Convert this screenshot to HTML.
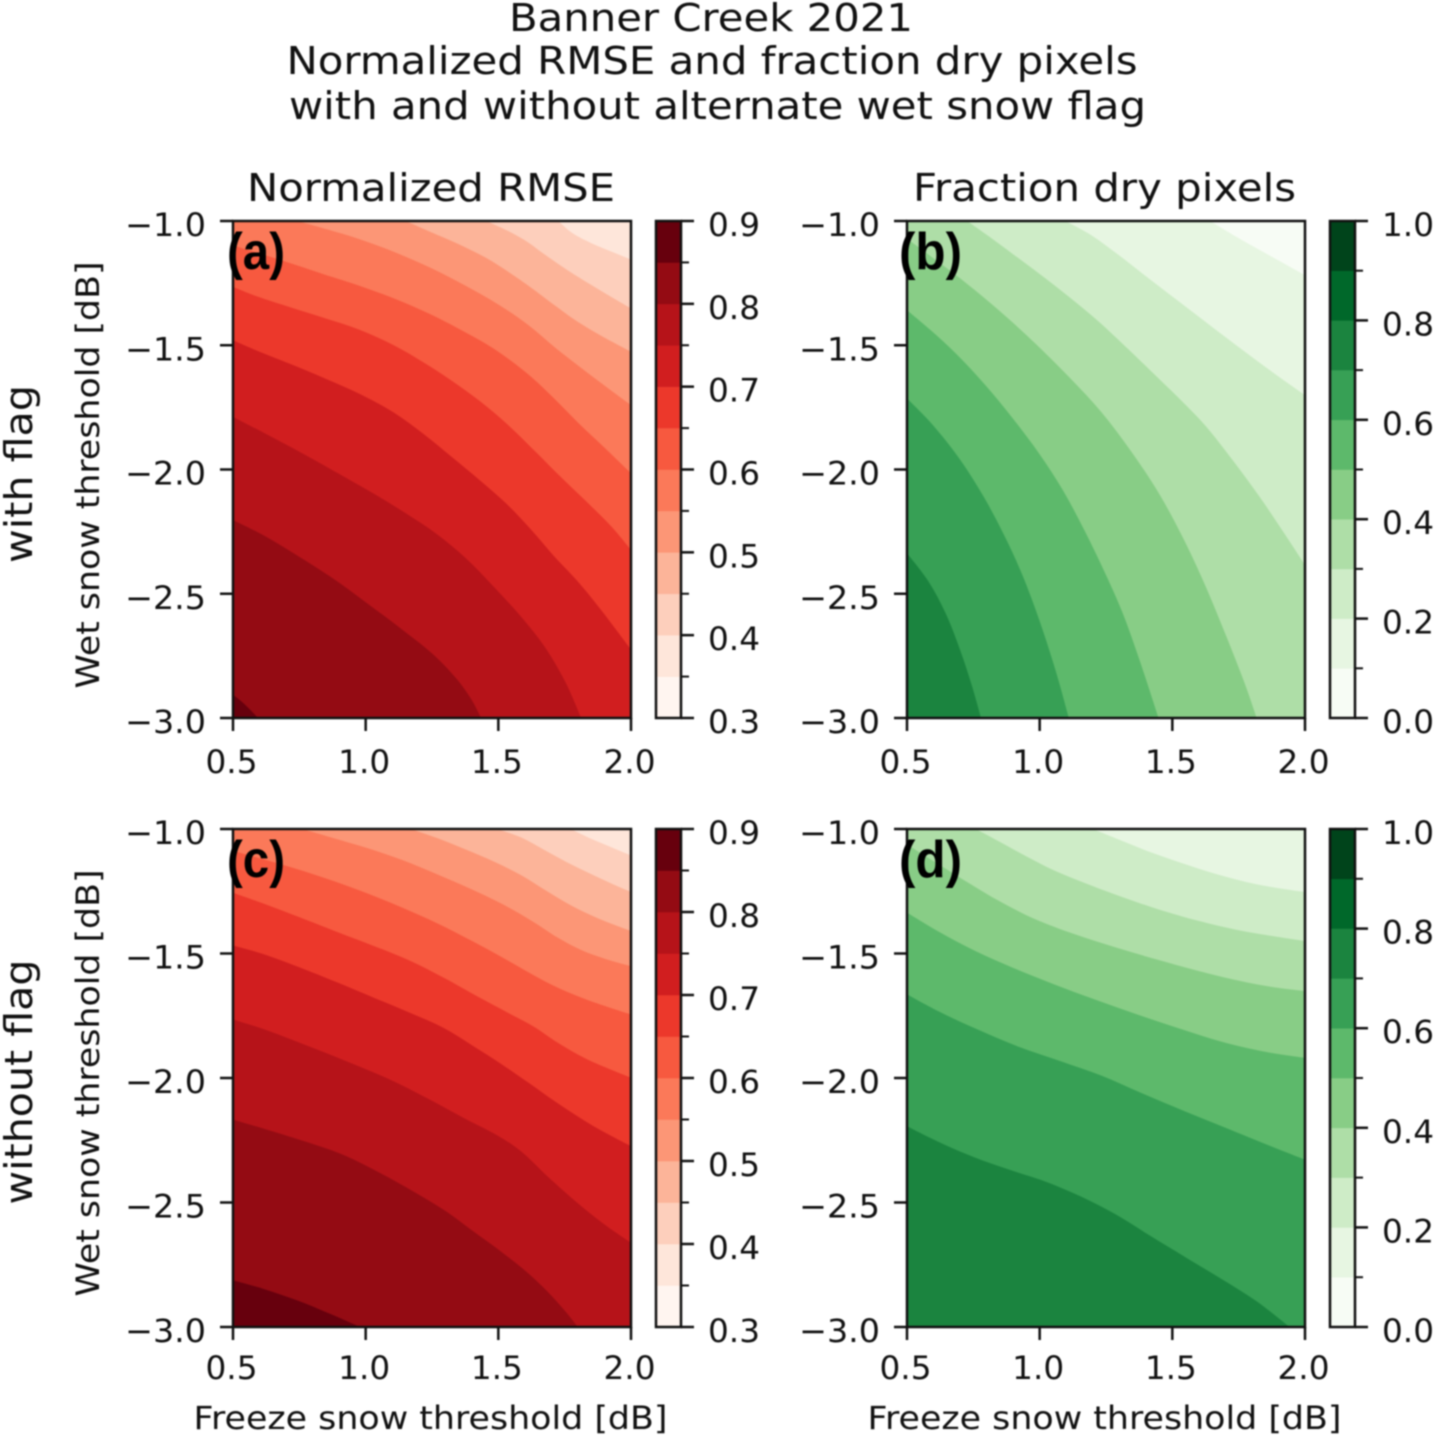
<!DOCTYPE html>
<html lang="en">
<head>
<meta charset="utf-8">
<title>Banner Creek 2021</title>
<style>
html,body{margin:0;padding:0;background:#fff;width:1435px;height:1438px;overflow:hidden}
svg{display:block;filter:blur(0.7px)}
text{font-family:"DejaVu Sans","Liberation Sans",sans-serif;fill:#111}
.panel-tag{font-family:"Liberation Sans",sans-serif;font-weight:700;font-size:52px;fill:#000}
</style>
</head>
<body>
<svg id="fig" xmlns="http://www.w3.org/2000/svg" width="1435" height="1438" viewBox="0 0 1435 1438">
<rect width="1435" height="1438" fill="#fff"/>
<g id="plots"></g>
<text x="711" y="31" text-anchor="middle" font-size="38.4" textLength="404" lengthAdjust="spacingAndGlyphs">Banner Creek 2021</text>
<text x="712" y="74" text-anchor="middle" font-size="38.4" textLength="851" lengthAdjust="spacingAndGlyphs">Normalized RMSE and fraction dry pixels</text>
<text x="717.5" y="119" text-anchor="middle" font-size="38.4" textLength="857" lengthAdjust="spacingAndGlyphs">with and without alternate wet snow flag</text>
<text x="431" y="201" text-anchor="middle" font-size="38.4" textLength="368" lengthAdjust="spacingAndGlyphs">Normalized RMSE</text>
<text x="1104.5" y="201" text-anchor="middle" font-size="38.4" textLength="383" lengthAdjust="spacingAndGlyphs">Fraction dry pixels</text>
<text transform="translate(32,474) rotate(-90)" text-anchor="middle" font-size="38.4" textLength="178" lengthAdjust="spacingAndGlyphs">with flag</text>
<text transform="translate(32,1082) rotate(-90)" text-anchor="middle" font-size="38.4" textLength="245" lengthAdjust="spacingAndGlyphs">without flag</text>
<text transform="translate(99,475) rotate(-90)" text-anchor="middle" font-size="32" textLength="427" lengthAdjust="spacingAndGlyphs">Wet snow threshold [dB]</text>
<text transform="translate(99,1083) rotate(-90)" text-anchor="middle" font-size="32" textLength="427" lengthAdjust="spacingAndGlyphs">Wet snow threshold [dB]</text>
<text x="430.5" y="1429" text-anchor="middle" font-size="32" textLength="474" lengthAdjust="spacingAndGlyphs">Freeze snow threshold [dB]</text>
<text x="1104.5" y="1429" text-anchor="middle" font-size="32" textLength="474" lengthAdjust="spacingAndGlyphs">Freeze snow threshold [dB]</text>
<text class="panel-tag" x="227" y="269" textLength="58" lengthAdjust="spacingAndGlyphs">(a)</text>
<text class="panel-tag" x="899" y="269" textLength="63" lengthAdjust="spacingAndGlyphs">(b)</text>
<text class="panel-tag" x="227" y="877" textLength="58" lengthAdjust="spacingAndGlyphs">(c)</text>
<text class="panel-tag" x="899" y="877" textLength="63" lengthAdjust="spacingAndGlyphs">(d)</text>
</svg>
<script>
// ---- axis data ----
const freezeTicks = [0.5, 1.0, 1.5, 2.0];
const wetTicks = [-1.0, -1.5, -2.0, -2.5, -3.0];
const rmseBarTicks = [0.3, 0.4, 0.5, 0.6, 0.7, 0.8, 0.9];
const rmseBarMinor = [0.35, 0.45, 0.55, 0.65, 0.75, 0.85];
const dryBarTicks = [0.0, 0.2, 0.4, 0.6, 0.8, 1.0];
const dryBarMinor = [0.1, 0.3, 0.5, 0.7, 0.9];
const rmseBandEdges = [0.3, 0.35, 0.4, 0.45, 0.5, 0.55, 0.6, 0.65, 0.7, 0.75, 0.8, 0.85, 0.9];
const dryBandEdges = [0.0, 0.1, 0.2, 0.3, 0.4, 0.5, 0.6, 0.7, 0.8, 0.9, 1.0];

// ---- contour data: value levels and their iso-lines, in threshold units (dB) ----
const rmseLevels = [0.40, 0.45, 0.50, 0.55, 0.60, 0.65, 0.70, 0.75, 0.80, 0.85];
const aFreeze = [
 [1.726,1.773,1.852,1.931,2],
 [1.455,1.548,1.614,1.667,1.733,1.799,1.892,2],
 [1.151,1.243,1.349,1.455,1.548,1.614,1.72,1.786,1.892,2],
 [0.741,0.847,0.979,1.111,1.243,1.376,1.508,1.614,1.72,1.825,1.905,2],
 [0.5,0.688,0.847,0.979,1.111,1.243,1.349,1.482,1.614,1.706,1.799,1.905,2],
 [0.5,0.582,0.714,0.847,0.979,1.111,1.217,1.323,1.429,1.534,1.64,1.733,1.839,1.931,2],
 [0.5,0.582,0.714,0.847,0.979,1.111,1.217,1.323,1.429,1.534,1.627,1.706,1.799,1.878,2],
 [0.5,0.608,0.741,0.873,1.032,1.151,1.27,1.376,1.482,1.587,1.68,1.759,1.812],
 [0.5,0.608,0.728,0.873,1.005,1.138,1.257,1.349,1.402,1.435],
 [0.5,0.542,0.595]
];
const aWet = [
 [-1,-1.051,-1.091,-1.125,-1.155],
 [-1,-1.044,-1.084,-1.131,-1.178,-1.225,-1.285,-1.352],
 [-1,-1.044,-1.091,-1.145,-1.212,-1.259,-1.346,-1.399,-1.466,-1.526],
 [-1,-1.031,-1.071,-1.125,-1.185,-1.259,-1.339,-1.413,-1.52,-1.6,-1.667,-1.741],
 [-1.098,-1.158,-1.218,-1.259,-1.312,-1.372,-1.433,-1.506,-1.614,-1.707,-1.814,-1.915,-2.015],
 [-1.265,-1.303,-1.346,-1.393,-1.433,-1.5,-1.567,-1.64,-1.721,-1.814,-1.928,-2.029,-2.136,-2.23,-2.324],
 [-1.48,-1.52,-1.573,-1.634,-1.694,-1.768,-1.855,-1.948,-2.042,-2.136,-2.243,-2.35,-2.444,-2.551,-2.725],
 [-1.788,-1.848,-1.922,-2.002,-2.096,-2.176,-2.257,-2.35,-2.471,-2.591,-2.712,-2.859,-3],
 [-2.203,-2.257,-2.337,-2.431,-2.538,-2.645,-2.739,-2.846,-2.926,-3],
 [-2.906,-2.94,-3]
];
const cFreeze = [
 [1.773,1.852,1.931,2],
 [1.495,1.587,1.667,1.759,1.852,1.931,2],
 [1.171,1.27,1.376,1.482,1.587,1.68,1.773,1.878,2],
 [0.761,0.873,1.005,1.138,1.27,1.402,1.534,1.64,1.72,1.812,1.905,2],
 [0.5,0.688,0.847,1.005,1.138,1.27,1.402,1.508,1.614,1.72,1.825,2],
 [0.5,0.608,0.741,0.899,1.032,1.164,1.296,1.429,1.534,1.64,1.72,1.825,2],
 [0.5,0.608,0.741,0.899,1.032,1.164,1.296,1.402,1.508,1.614,1.72,1.852,2],
 [0.5,0.608,0.767,0.926,1.085,1.243,1.376,1.508,1.587,1.68,1.812,1.905,2],
 [0.5,0.608,0.767,0.913,1.032,1.191,1.31,1.402,1.521,1.614,1.693,1.759,1.799],
 [0.5,0.608,0.741,0.873,0.979]
];
const cWet = [
 [-1,-1.042,-1.075,-1.106],
 [-1,-1.028,-1.082,-1.135,-1.182,-1.222,-1.253],
 [-1,-1.035,-1.082,-1.129,-1.182,-1.249,-1.309,-1.363,-1.41],
 [-1,-1.035,-1.075,-1.122,-1.182,-1.242,-1.309,-1.376,-1.437,-1.49,-1.524,-1.551],
 [-1.088,-1.142,-1.196,-1.256,-1.316,-1.376,-1.45,-1.51,-1.577,-1.638,-1.685,-1.745],
 [-1.256,-1.296,-1.35,-1.417,-1.47,-1.524,-1.597,-1.678,-1.738,-1.792,-1.859,-1.926,-1.999],
 [-1.468,-1.497,-1.551,-1.618,-1.678,-1.738,-1.792,-1.872,-1.939,-2.019,-2.1,-2.194,-2.274],
 [-1.765,-1.798,-1.865,-1.932,-1.999,-2.086,-2.167,-2.234,-2.287,-2.395,-2.515,-2.595,-2.662],
 [-2.167,-2.2,-2.254,-2.301,-2.368,-2.462,-2.535,-2.616,-2.703,-2.783,-2.863,-2.944,-3],
 [-2.812,-2.843,-2.89,-2.95,-3]
];
const bLevels = [0.1, 0.2, 0.3, 0.4, 0.5, 0.6, 0.7];
const bFreeze = [
 [1.643,1.74,1.831,1.922,2],
 [1.097,1.195,1.299,1.403,1.519,1.649,1.766,1.883,2],
 [0.727,0.805,0.896,1,1.104,1.221,1.338,1.442,1.532,1.623,1.727,1.831,1.922,2],
 [0.5,0.584,0.688,0.818,0.948,1.104,1.234,1.351,1.455,1.545,1.623,1.714,1.779,1.818],
 [0.5,0.584,0.688,0.792,0.896,1,1.091,1.169,1.247,1.312,1.377,1.448],
 [0.5,0.597,0.701,0.792,0.87,0.935,1,1.065,1.11],
 [0.5,0.584,0.649,0.701,0.747,0.779]
];
const bWet = [
 [-1,-1.064,-1.118,-1.171,-1.218],
 [-1,-1.051,-1.138,-1.225,-1.319,-1.426,-1.52,-1.614,-1.701],
 [-1,-1.058,-1.131,-1.212,-1.299,-1.399,-1.52,-1.627,-1.721,-1.814,-1.962,-2.109,-2.257,-2.384],
 [-1.071,-1.138,-1.218,-1.332,-1.453,-1.62,-1.761,-1.935,-2.096,-2.283,-2.457,-2.699,-2.873,-3],
 [-1.359,-1.433,-1.533,-1.654,-1.788,-1.935,-2.082,-2.243,-2.417,-2.565,-2.766,-3],
 [-1.714,-1.814,-1.955,-2.109,-2.27,-2.417,-2.605,-2.819,-3],
 [-2.337,-2.444,-2.578,-2.725,-2.873,-3]
];
const dLevels = [0.2, 0.3, 0.4, 0.5, 0.6, 0.7];
const dFreeze = [
 [1.201,1.299,1.416,1.532,1.662,1.805,1.922,2],
 [0.76,0.844,0.948,1.052,1.182,1.299,1.442,1.597,1.753,1.896,2],
 [0.5,0.649,0.74,0.844,0.974,1.13,1.286,1.442,1.597,1.753,1.883,2],
 [0.5,0.623,0.753,0.896,1.052,1.208,1.364,1.519,1.688,1.857,2],
 [0.5,0.623,0.766,0.922,1.078,1.234,1.39,1.545,1.701,1.87,2],
 [0.5,0.61,0.753,0.896,1.013,1.156,1.286,1.416,1.545,1.688,1.818,1.942]
];
const dWet = [
 [-1,-1.042,-1.095,-1.135,-1.182,-1.222,-1.242,-1.253],
 [-1,-1.048,-1.109,-1.169,-1.222,-1.269,-1.323,-1.37,-1.41,-1.433,-1.45],
 [-1.062,-1.162,-1.222,-1.289,-1.363,-1.423,-1.477,-1.524,-1.571,-1.611,-1.638,-1.651],
 [-1.336,-1.417,-1.49,-1.557,-1.624,-1.685,-1.745,-1.798,-1.859,-1.899,-1.919],
 [-1.664,-1.738,-1.805,-1.879,-1.932,-1.986,-2.066,-2.133,-2.2,-2.274,-2.328],
 [-2.194,-2.254,-2.321,-2.374,-2.408,-2.475,-2.542,-2.636,-2.716,-2.81,-2.89,-3]
];

// ---- palettes (one colour per band, low to high) ----
const redsPalette = ['#fff5f0','#fee6da','#fdcfbc','#fcb499','#fc9676','#fb7959','#f7593f','#ec382b','#d11e1f','#b61319','#940b13','#67000d'];
const greensPalette = ['#f7fcf5','#e7f6e2','#ceecc7','#aedea7','#88cd86','#5db96b','#37a055','#1b843f','#00682a','#00441b'];

// ---- layout ----
const columns = { left: {x0: 233, x1: 631, bar0: 656, bar1: 681}, right: {x0: 907, x1: 1305, bar0: 1330, bar1: 1355} };
const rows = { top: {y0: 221, y1: 718, xLabelDy: 55}, bottom: {y0: 829, y1: 1327, xLabelDy: 52} };
const NS = 'http://www.w3.org/2000/svg';
const root = document.getElementById('plots');
const INK = '#111';
const LW = 2.5;

function make(tag, parent, attrs) {
  const el = document.createElementNS(NS, tag);
  for (const k in attrs) el.setAttribute(k, attrs[k]);
  parent.appendChild(el);
  return el;
}
function linear(d0, d1, r0, r1) {
  return v => r0 + (v - d0) / (d1 - d0) * (r1 - r0);
}
function fmt(v) {
  return (v < 0 ? '\u2212' : '') + Math.abs(v).toFixed(1);
}
function fitWidth(v) {
  return v < 0 ? 81 : 52;
}
function bandIndex(value, edges) {
  let best = 0, bestDist = Infinity;
  edges.forEach((e, i) => { const d = Math.abs(e - value); if (d < bestDist) { bestDist = d; best = i; } });
  return best;
}
// Light de-jitter of the hand-read iso-line, keeping its two end points on the frame.
function relax(p) {
  return p.map((q, i) => {
    if (i === 0 || i === p.length - 1) return q;
    return [0.2 * p[i - 1][0] + 0.6 * q[0] + 0.2 * p[i + 1][0], 0.2 * p[i - 1][1] + 0.6 * q[1] + 0.2 * p[i + 1][1]];
  });
}
function smoothThrough(p) {
  let d = 'M' + p[0][0].toFixed(2) + ' ' + p[0][1].toFixed(2);
  for (let i = 0; i < p.length - 1; i++) {
    const a = p[Math.max(i - 1, 0)], b = p[i], c = p[i + 1], e = p[Math.min(i + 2, p.length - 1)];
    const c1x = b[0] + (c[0] - a[0]) / 6, c1y = b[1] + (c[1] - a[1]) / 6;
    const c2x = c[0] - (e[0] - b[0]) / 6, c2y = c[1] - (e[1] - b[1]) / 6;
    d += 'C' + [c1x, c1y, c2x, c2y, c[0], c[1]].map(n => n.toFixed(2)).join(' ');
  }
  return d;
}

function drawPanel(id, col, row, levels, freezeSets, wetSets, palette, edges, barTicks, barMinor) {
  const xMin = freezeTicks[0], xMax = freezeTicks[freezeTicks.length - 1];
  const yTop = wetTicks[0], yBottom = wetTicks[wetTicks.length - 1];
  const xs = linear(xMin, xMax, col.x0, col.x1);
  const ys = linear(yTop, yBottom, row.y0, row.y1);
  const g = make('g', root, {});
  
  

  const clip = make('clipPath', g, {id: 'clip-' + id});
  make('rect', clip, {x: xs(xMin), y: ys(yTop), width: xs(xMax) - xs(xMin), height: ys(yBottom) - ys(yTop)});
  const field = make('g', g, {'clip-path': 'url(#clip-' + id + ')'});
  
  

  const base = make('rect', field, {x: xs(xMin), y: ys(yTop), width: xs(xMax) - xs(xMin), height: ys(yBottom) - ys(yTop), fill: palette[bandIndex(levels[0], edges) - 1]});
  
  

  levels.forEach((level, i) => {
    const fx = freezeSets[i], wy = wetSets[i];
    const line = relax(fx.map((f, j) => [xs(f), ys(wy[j])]));
    const tail = [];
    if (fx[fx.length - 1] === xMax) tail.push([xMax, yBottom]);
    tail.push([xMin, yBottom]);
    if (wy[0] === yTop) tail.push([xMin, yTop]);
    const d = smoothThrough(line) + tail.map(p => 'L' + xs(p[0]).toFixed(2) + ' ' + ys(p[1]).toFixed(2)).join('') + 'Z';
    const band = make('path', field, {d: d, fill: palette[bandIndex(level, edges)]});
    
    
  });

  const frame = make('rect', g, {x: xs(xMin), y: ys(yTop), width: xs(xMax) - xs(xMin), height: ys(yBottom) - ys(yTop), fill: 'none', stroke: INK, 'stroke-width': LW});
  
  

  freezeTicks.forEach(t => {
    const tick = make('line', g, {x1: xs(t), x2: xs(t), y1: ys(yBottom), y2: ys(yBottom) + 13, stroke: INK, 'stroke-width': LW});
    
    
    const label = make('text', g, {x: xs(t) - 1.5, y: ys(yBottom) + row.xLabelDy, 'text-anchor': 'middle', 'font-size': 32, textLength: fitWidth(t), lengthAdjust: 'spacingAndGlyphs'});
    label.textContent = fmt(t);
    
    
  });
  wetTicks.forEach(t => {
    const tick = make('line', g, {x1: xs(xMin) - 13, x2: xs(xMin), y1: ys(t), y2: ys(t), stroke: INK, 'stroke-width': LW});
    
    
    const label = make('text', g, {x: xs(xMin) - 27, y: ys(t) + 15, 'text-anchor': 'end', 'font-size': 32, textLength: fitWidth(t), lengthAdjust: 'spacingAndGlyphs'});
    label.textContent = fmt(t);
    
    
  });

  // colorbar
  const cb = make('g', g, {});
  
  
  const vs = linear(edges[0], edges[edges.length - 1], row.y1, row.y0);
  palette.forEach((color, i) => {
    const seg = make('rect', cb, {x: col.bar0, y: vs(edges[i + 1]), width: col.bar1 - col.bar0, height: vs(edges[i]) - vs(edges[i + 1]) + 0.3, fill: color});
    
    
  });
  const outline = make('rect', cb, {x: col.bar0, y: row.y0, width: col.bar1 - col.bar0, height: row.y1 - row.y0, fill: 'none', stroke: INK, 'stroke-width': LW});
  
  
  barMinor.forEach(t => {
    const tick = make('line', cb, {x1: col.bar1, x2: col.bar1 + 8, y1: vs(t), y2: vs(t), stroke: INK, 'stroke-width': 2});
    
    
  });
  barTicks.forEach(t => {
    const tick = make('line', cb, {x1: col.bar1, x2: col.bar1 + 13, y1: vs(t), y2: vs(t), stroke: INK, 'stroke-width': LW});
    
    
    const label = make('text', cb, {x: col.bar1 + 27, y: vs(t) + 15, 'font-size': 32, textLength: fitWidth(t), lengthAdjust: 'spacingAndGlyphs'});
    label.textContent = fmt(t);
    
    
  });
}

drawPanel('a', columns.left, rows.top, rmseLevels, aFreeze, aWet, redsPalette, rmseBandEdges, rmseBarTicks, rmseBarMinor);
drawPanel('b', columns.right, rows.top, bLevels, bFreeze, bWet, greensPalette, dryBandEdges, dryBarTicks, dryBarMinor);
drawPanel('c', columns.left, rows.bottom, rmseLevels, cFreeze, cWet, redsPalette, rmseBandEdges, rmseBarTicks, rmseBarMinor);
drawPanel('d', columns.right, rows.bottom, dLevels, dFreeze, dWet, greensPalette, dryBandEdges, dryBarTicks, dryBarMinor);
</script>
</body>
</html>
